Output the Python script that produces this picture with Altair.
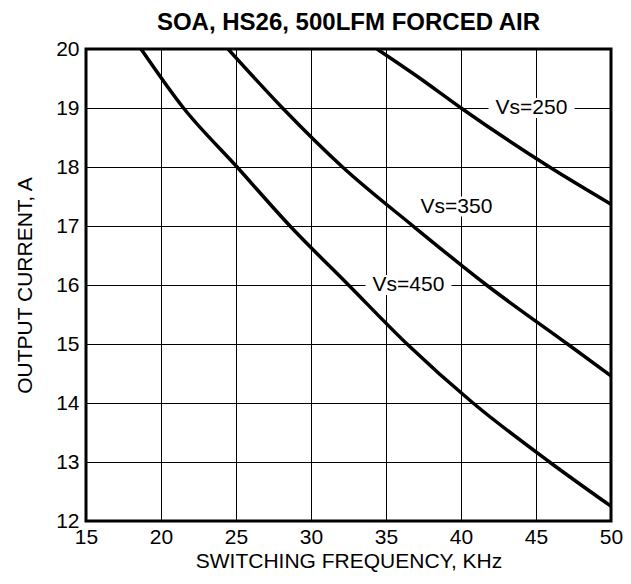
import altair as alt
import pandas as pd

# Curve data (frequency kHz, output current A)
freq_250 = [34.4, 37.0, 40.0, 45.9, 50.0]
curr_250 = [20.0, 19.55, 19.0, 18.0, 17.37]

freq_350 = [24.47, 28.1, 32.1, 36.8, 41.7, 47.1, 50.0]
curr_350 = [20.0, 19.0, 18.0, 17.0, 16.0, 15.0, 14.46]

freq_450 = [18.67, 21.5, 25.07, 28.6, 32.5, 36.4, 40.8, 45.9, 50.0]
curr_450 = [20.0, 19.0, 18.0, 17.0, 16.0, 15.0, 14.0, 13.0, 12.25]

label_text = ["Vs=250", "Vs=350", "Vs=450"]
label_freq = [44.7, 39.7, 36.5]
label_curr = [19.0, 17.33, 16.0]

x_ticks = [15, 20, 25, 30, 35, 40, 45, 50]
y_ticks = [12, 13, 14, 15, 16, 17, 18, 19, 20]

rows = []
for name, fs, cs in [("250", freq_250, curr_250), ("350", freq_350, curr_350), ("450", freq_450, curr_450)]:
    for i, (f, c) in enumerate(zip(fs, cs)):
        rows.append({"series": name, "order": i, "freq": f, "curr": c})
curves = pd.DataFrame(rows)
labels = pd.DataFrame({"text": label_text, "freq": label_freq, "curr": label_curr})

FONT = "Liberation Sans"

xscale = alt.Scale(domain=[15, 50], nice=False, zero=False)
yscale = alt.Scale(domain=[12, 20], nice=False, zero=False)

xaxis = alt.Axis(values=x_ticks, format="d", title="SWITCHING FREQUENCY, KHz", grid=True, gridColor="black",
                 gridOpacity=1, gridWidth=1, ticks=False, domain=False, labelFontSize=21,
                 labelColor="black", labelFont=FONT, titleFont=FONT, titleFontSize=21,
                 titleFontWeight="normal", titleColor="black", labelPadding=5, titlePadding=3,
                 labelFlush=False)
yaxis = alt.Axis(values=y_ticks, format="d", title="OUTPUT CURRENT, A", grid=True, gridColor="black",
                 gridOpacity=1, gridWidth=1, ticks=False, domain=False, labelFontSize=21,
                 labelColor="black", labelFont=FONT, titleFont=FONT, titleFontSize=21,
                 titleFontWeight="normal", titleColor="black", labelPadding=7, titlePadding=20,
                 labelFlush=False)

lines = alt.Chart(curves).mark_line(color="black", strokeWidth=3.5, interpolate="monotone", clip=True).encode(
    x=alt.X("freq:Q", scale=xscale, axis=xaxis),
    y=alt.Y("curr:Q", scale=yscale, axis=yaxis),
    detail="series:N",
    order="order:Q",
)

boxes = alt.Chart(labels).mark_rect(color="white", width=86, height=20).encode(
    x=alt.X("freq:Q", scale=xscale),
    y=alt.Y("curr:Q", scale=yscale),
)

texts = alt.Chart(labels).mark_text(font=FONT, fontSize=21, color="black", baseline="middle", align="center").encode(
    x=alt.X("freq:Q", scale=xscale),
    y=alt.Y("curr:Q", scale=yscale),
    text="text:N",
)

chart = alt.layer(lines, boxes, texts).properties(
    width=525, height=472,
    title=alt.TitleParams("SOA, HS26, 500LFM FORCED AIR", font=FONT, fontSize=24, fontWeight="bold",
                          color="black", anchor="middle", offset=3),
    autosize=alt.AutoSizeParams(type="none"),
    padding={"left": 78, "top": 41, "right": 12, "bottom": 55},
    background="white",
).configure_view(stroke="black", strokeWidth=3)

chart.save("out.html", embed_options={"renderer": "svg", "actions": False})
